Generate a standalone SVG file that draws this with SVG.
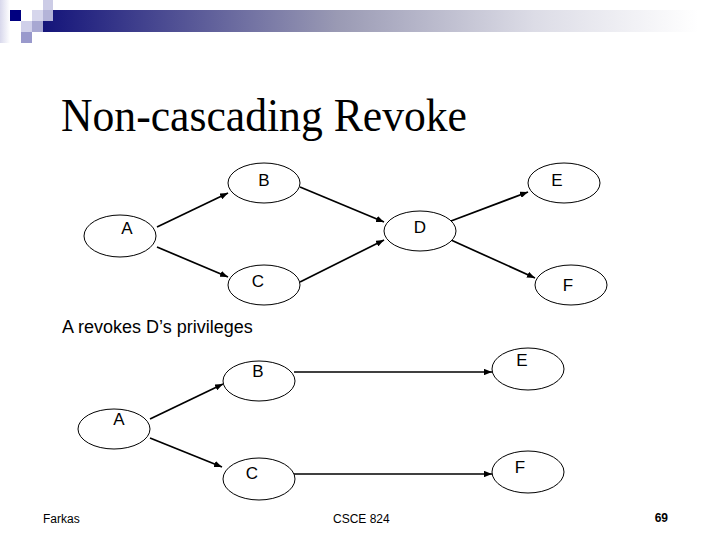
<svg xmlns="http://www.w3.org/2000/svg" width="720" height="540" viewBox="0 0 720 540">
<defs>
<linearGradient id="bar" x1="0" y1="0" x2="1" y2="0">
<stop offset="0" stop-color="#14147a"/>
<stop offset="0.45" stop-color="#9a9ab4"/>
<stop offset="0.75" stop-color="#dcdce6"/>
<stop offset="1" stop-color="#ffffff"/>
</linearGradient>
<linearGradient id="side" x1="0" y1="0" x2="1" y2="0">
<stop offset="0" stop-color="#d8d8ec"/>
<stop offset="1" stop-color="#ffffff"/>
</linearGradient>
<marker id="arr" viewBox="0 0 10 8" refX="10" refY="4" markerWidth="8" markerHeight="6.4" markerUnits="userSpaceOnUse" orient="auto">
<path d="M0,0 L10,4 L0,8 z" fill="#000"/>
</marker>
<style>
.node ellipse{fill:#fff;stroke:#000;stroke-width:1}
.node text{font-family:"Liberation Sans",Arial,sans-serif;font-size:17px;fill:#000;text-anchor:middle}
.conn line{stroke:#000;stroke-width:1.7;marker-end:url(#arr)}
.foot{font-family:"Liberation Sans",Arial,sans-serif;font-size:12px;fill:#000}
</style>
</defs>
<rect width="720" height="540" fill="#fff"/>
<g id="header">
<rect x="0" y="0" width="10" height="43" fill="url(#side)"/>
<rect x="43" y="10" width="655" height="22" fill="url(#bar)"/>
<rect x="10" y="10" width="11" height="11" fill="#000080"/>
<rect x="43" y="0" width="10" height="10" fill="#ccccE6"/>
<rect x="32" y="10" width="11" height="11" fill="#d6d6ec"/>
<rect x="43" y="10" width="10" height="11" fill="#b4b4d8"/>
<rect x="21" y="21" width="11" height="11" fill="#d0d0ea"/>
<rect x="32" y="21" width="11" height="11" fill="#a8a8d2"/>
<rect x="21" y="32" width="11" height="11" fill="#9999cc"/>
</g>
<text x="61" y="131" font-family="'Liberation Serif','Times New Roman',serif" font-size="47" textLength="406" lengthAdjust="spacingAndGlyphs">Non-cascading Revoke</text>
<g class="conn" id="connectors">
<line x1="157" y1="227" x2="228" y2="193"/>
<line x1="157" y1="247" x2="228" y2="277"/>
<line x1="300" y1="187" x2="384" y2="222"/>
<line x1="300" y1="282" x2="384" y2="240"/>
<line x1="451" y1="221" x2="528" y2="192"/>
<line x1="451" y1="240" x2="535" y2="278"/>
<line x1="150" y1="419" x2="223" y2="384"/>
<line x1="150" y1="438" x2="222" y2="467"/>
<line x1="294" y1="372" x2="492" y2="372"/>
<line x1="294" y1="474" x2="492" y2="474"/>
</g>
<g class="node" id="g1-A"><ellipse cx="120" cy="236" rx="36" ry="21"/><text x="127" y="234">A</text></g>
<g class="node" id="g1-B"><ellipse cx="264" cy="183" rx="36" ry="20"/><text x="264" y="186">B</text></g>
<g class="node" id="g1-C"><ellipse cx="264" cy="285" rx="36" ry="20"/><text x="258" y="287">C</text></g>
<g class="node" id="g1-D"><ellipse cx="420" cy="231" rx="36" ry="20"/><text x="420" y="233">D</text></g>
<g class="node" id="g1-E"><ellipse cx="564" cy="183" rx="36" ry="20"/><text x="557" y="186">E</text></g>
<g class="node" id="g1-F"><ellipse cx="571" cy="285" rx="36" ry="20"/><text x="568" y="291">F</text></g>
<text x="62" y="333" font-family="'Liberation Sans',Arial,sans-serif" font-size="18">A revokes D’s privileges</text>
<g class="node" id="g2-A"><ellipse cx="114" cy="429" rx="36" ry="20"/><text x="119" y="425">A</text></g>
<g class="node" id="g2-B"><ellipse cx="259" cy="381" rx="36" ry="20"/><text x="258" y="377">B</text></g>
<g class="node" id="g2-C"><ellipse cx="259" cy="479" rx="36" ry="21"/><text x="252" y="479">C</text></g>
<g class="node" id="g2-E"><ellipse cx="528" cy="369" rx="36" ry="21"/><text x="522" y="366">E</text></g>
<g class="node" id="g2-F"><ellipse cx="528" cy="472" rx="36" ry="21"/><text x="520" y="473">F</text></g>
<text class="foot" x="43" y="523">Farkas</text>
<text class="foot" x="333" y="523">CSCE 824</text>
<text class="foot" x="668" y="522" font-weight="bold" text-anchor="end">69</text>
</svg>
